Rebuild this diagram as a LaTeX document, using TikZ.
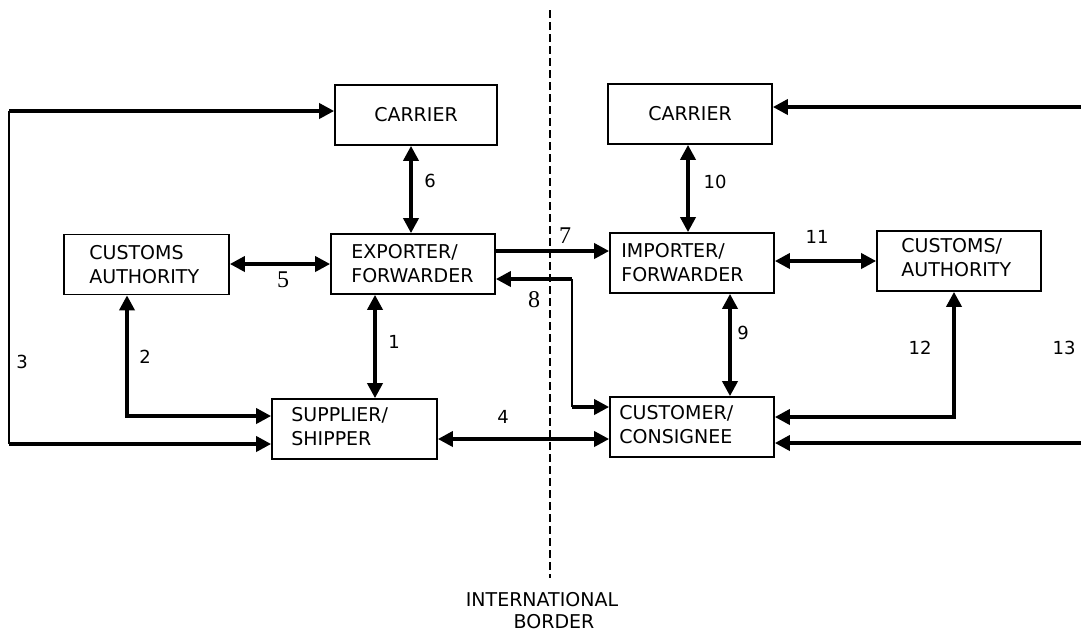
\documentclass[tikz,border=0pt]{standalone}
\usepackage{fontspec}
\setmainfont{DejaVu Sans}
\newfontfamily\seriffont{Liberation Serif}
\usetikzlibrary{arrows.meta}
\tikzset{
  box/.style={draw, line width=1.7pt, minimum width=164pt, minimum height=60pt, inner sep=0pt},
  boxtext/.style={anchor=west, align=left, font=\fontsize{19}{24}\selectfont, inner sep=0pt},
  lbl/.style={font=\fontsize{18}{20}\selectfont, inner sep=0pt},
  slbl/.style={font=\seriffont\fontsize{24}{26}\selectfont, inner sep=0pt},
  conn/.style={line width=3.6pt, -{Triangle[length=15pt,width=15pt]}},
  dconn/.style={line width=3.6pt, {Triangle[length=15pt,width=15pt]}-{Triangle[length=15pt,width=15pt]}},
  thinconn/.style={line width=1.8pt},
  border/.style={line width=2.5pt, dash pattern=on 8pt off 4pt}
}
\begin{document}
\begin{tikzpicture}[x=1pt,y=-1pt]
\useasboundingbox (0,0) rectangle (1081,633);
\fill[white] (0,0) rectangle (1081,633);

% border line
\coordinate (bt) at (550,10);
\coordinate (bb) at (550,578);
\draw[border] (bt) -- (bb);
\node[font=\fontsize{19}{24}\selectfont, inner sep=0pt] (intl) at (542,600) {INTERNATIONAL};
\node[font=\fontsize{19}{24}\selectfont, inner sep=0pt] (bord) at (554,622) {BORDER};

% boxes
\node[box, minimum width=162pt] (carL) at (416,115) {};
\node[font=\fontsize{19}{24}\selectfont, inner sep=0pt] (carLt) at (carL.center) {CARRIER};
\node[box] (carR) at (690,114) {};
\node[font=\fontsize{19}{24}\selectfont, inner sep=0pt] (carRt) at (carR.center) {CARRIER};
\node[box, minimum width=165pt] (cusL) at (146.5,264.5) {};
\node[boxtext] (cusLt) at ([xshift=26pt]cusL.west) {CUSTOMS\\AUTHORITY};
\node[box] (exp) at (413,264) {};
\node[boxtext] (expt) at ([xshift=21pt]exp.west) {EXPORTER/\\FORWARDER};
\node[box] (imp) at (692,263) {};
\node[boxtext] (impt) at ([xshift=12pt]imp.west) {IMPORTER/\\FORWARDER};
\node[box] (cusR) at (959,261) {};
\node[boxtext] (cusRt) at ([xshift=25pt,yshift=3pt]cusR.west) {CUSTOMS/\\AUTHORITY};
\node[box, minimum width=165pt] (sup) at (354.5,429) {};
\node[boxtext] (supt) at ([xshift=20pt,yshift=2pt]sup.west) {SUPPLIER/\\SHIPPER};
\node[box] (cust) at (692,427) {};
\node[boxtext] (custt) at ([xshift=10pt,yshift=2pt]cust.west) {CUSTOMER/\\CONSIGNEE};

% connector coordinates
\coordinate (c1) at (375,0);
\coordinate (c2) at (127,416);
\coordinate (c3t) at (9,111);
\coordinate (c3b) at (9,444);
\coordinate (c4) at (0,439);
\coordinate (c5) at (0,264);
\coordinate (c6) at (411,0);
\coordinate (c7) at (0,251);
\coordinate (c8a) at (572,279);
\coordinate (c8b) at (572,407);
\coordinate (c9) at (730,0);
\coordinate (c10) at (688,0);
\coordinate (c11) at (0,261);
\coordinate (c12) at (954,417);
\coordinate (c13t) at (1081,107);
\coordinate (c13b) at (1081,443);

% 1
\draw[dconn] (exp.south -| c1) -- (sup.north -| c1);
% 2
\draw[dconn] (cusL.south -| c2) -- (c2) -- (sup.west |- c2);
% 3
\draw[conn] (c3t) -- (carL.west |- c3t);
\draw[thinconn] (c3t) -- (c3b);
\draw[conn] (c3b) -- (sup.west |- c3b);
% 4
\draw[dconn] (sup.east |- c4) -- (cust.west |- c4);
% 5
\draw[dconn] (cusL.east |- c5) -- (exp.west |- c5);
% 6
\draw[dconn] (carL.south -| c6) -- (exp.north -| c6);
% 7
\draw[conn] (exp.east |- c7) -- (imp.west |- c7);
% 8
\draw[conn] (c8a) -- (exp.east |- c8a);
\draw[thinconn] (c8a) -- (c8b);
\draw[conn] (c8b) -- (cust.west |- c8b);
% 9
\draw[dconn] (imp.south -| c9) -- (cust.north -| c9);
% 10
\draw[dconn] (carR.south -| c10) -- (imp.north -| c10);
% 11
\draw[dconn] (imp.east |- c11) -- (cusR.west |- c11);
% 12
\draw[dconn] (cusR.south -| c12) -- (c12) -- (cust.east |- c12);
% 13
\draw[conn] (c13t) -- (carR.east |- c13t);
\draw[conn] (c13b) -- (cust.east |- c13b);

% labels
\node[lbl] (l1) at (394,342) {1};
\node[lbl] (l2) at (145,357) {2};
\node[lbl] (l3) at (22,362) {3};
\node[lbl] (l4) at (503,417) {4};
\node[slbl] (l5) at (283,280) {5};
\node[lbl] (l6) at (430,181) {6};
\node[slbl] (l7) at (565,236) {7};
\node[slbl] (l8) at (534,300) {8};
\node[lbl] (l9) at (743,333) {9};
\node[lbl] (l10) at (715,182) {10};
\node[lbl] (l11) at (817,237) {11};
\node[lbl] (l12) at (920,348) {12};
\node[lbl] (l13) at (1064,348) {13};
\end{tikzpicture}
\end{document}
